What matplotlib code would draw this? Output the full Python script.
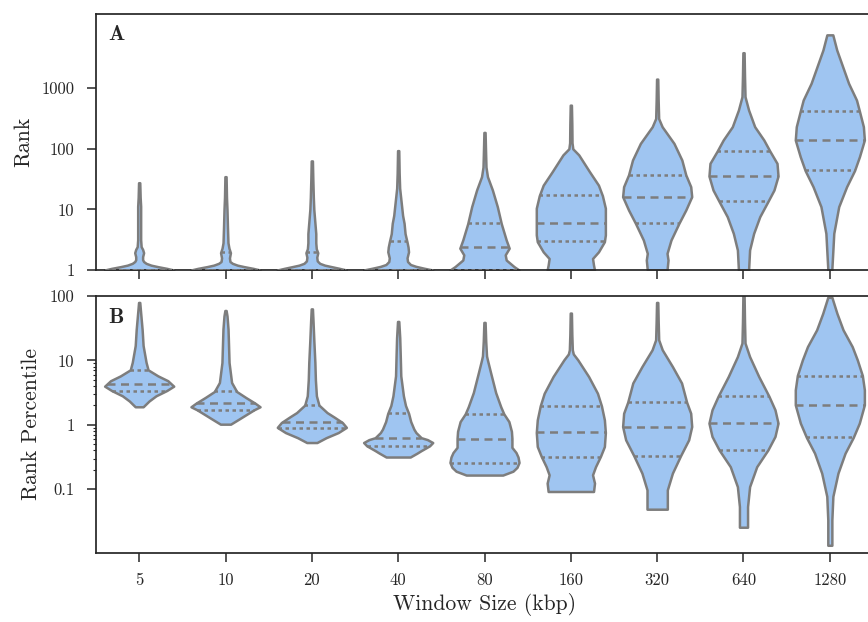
import numpy as np
import matplotlib
matplotlib.use('Agg')
import matplotlib.pyplot as plt
from matplotlib.ticker import FixedLocator, NullLocator, NullFormatter

# ---- Data ----
windows = ['5', '10', '20', '40', '80', '160', '320', '640', '1280']

# violin outlines: log10(value) sample points and relative half-widths
rank_logs = [
    [0, 0.027, 0.055, 0.08, 0.11, 0.14, 0.17, 0.22, 0.285, 0.34, 0.385, 0.5, 0.8, 1.05, 1.2, 1.44],
    [0, 0.027, 0.055, 0.08, 0.11, 0.14, 0.2, 0.285, 0.36, 0.45, 0.7, 1.0, 1.2, 1.54],
    [0, 0.027, 0.055, 0.08, 0.11, 0.15, 0.21, 0.285, 0.35, 0.45, 0.6, 0.8, 1.0, 1.2, 1.5, 1.8],
    [0, 0.03, 0.06, 0.09, 0.14, 0.2, 0.3, 0.38, 0.46, 0.6, 0.77, 0.9, 1.05, 1.2, 1.35, 1.6, 1.97],
    [0, 0.055, 0.11, 0.165, 0.25, 0.36, 0.495, 0.765, 1.045, 1.32, 1.54, 1.7, 2.0, 2.27],
    [0, 0.08, 0.19, 0.3, 0.467, 0.58, 0.776, 1.02, 1.226, 1.4, 1.62, 1.9, 2.0, 2.1, 2.4, 2.72],
    [0, 0.165, 0.275, 0.495, 0.77, 0.99, 1.21, 1.375, 1.57, 1.815, 2.09, 2.365, 2.5, 2.8, 3.15],
    [0, 0.33, 0.605, 0.88, 1.13, 1.32, 1.55, 1.76, 1.96, 2.145, 2.365, 2.64, 2.86, 3.2, 3.585],
    [0, 0.3, 0.605, 1.045, 1.375, 1.64, 1.87, 2.145, 2.365, 2.62, 2.805, 3.08, 3.355, 3.63, 3.88],
]
rank_widths = [
    [35, 28, 19, 12, 7, 4.5, 3.5, 3.5, 4.5, 3.5, 2, 1.5, 1.5, 1.5, 1, 0.6],
    [35, 28, 19, 12, 7, 4.5, 4, 5, 3.5, 2.5, 2, 1.5, 1, 0.6],
    [35, 28, 20, 13, 8, 5.5, 5, 6, 4.5, 4, 4, 3, 2, 1.5, 1, 0.6],
    [35, 26, 18, 12.5, 9.5, 9, 10.5, 10, 9, 7, 6, 4.5, 3.5, 2.5, 1.5, 1, 0.6],
    [35, 30, 26, 22, 21, 25, 22, 17, 13, 8, 3, 1.5, 1, 0.6],
    [24, 23, 22, 28, 34, 35, 35, 35, 32, 28, 19, 8, 2, 1.2, 1, 0.6],
    [10, 11, 10, 14, 22, 29, 35, 34, 29, 25, 17, 5, 1.5, 1, 0.6],
    [5, 6, 10, 16, 24, 30, 34, 33, 26, 20, 11, 5, 1.5, 1, 0.6],
    [2, 3, 4, 9, 17, 25, 30, 35, 34, 30, 27, 19, 13, 7, 3],
]
rank_q1 = [1, 1, 1, 1, 1, 3, 6, 13.5, 44]
rank_med = [1, 1, 1, 1, 2.4, 6, 16, 36, 140]
rank_q3 = [1, 2, 2, 3, 6, 17, 37, 92, 415]

pct_logs = [
    [0.28, 0.37, 0.45, 0.533, 0.6, 0.685, 0.76, 0.854, 0.97, 1.23, 1.48, 1.74, 1.9],
    [0.01, 0.087, 0.165, 0.233, 0.28, 0.337, 0.424, 0.517, 0.657, 0.967, 1.23, 1.485, 1.69, 1.775],
    [-0.275, -0.2, -0.12, -0.04, 0.036, 0.12, 0.19, 0.306, 0.45, 0.7, 0.967, 1.3, 1.6, 1.8],
    [-0.5, -0.44, -0.4, -0.326, -0.275, -0.23, -0.2, -0.12, -0.067, 0.05, 0.176, 0.3, 0.45,
     0.76, 1.07, 1.35, 1.605],
    [-0.78, -0.72, -0.66, -0.585, -0.5, -0.43, -0.35, -0.21, -0.1, 0.05, 0.17, 0.28, 0.5,
     0.81, 1.0, 1.07, 1.3, 1.59],
    [-1.035, -0.905, -0.776, -0.65, -0.49, -0.337, -0.12, 0.078, 0.295, 0.49, 0.75, 1.01,
     1.1, 1.165, 1.4, 1.735],
    [-1.31, -1.165, -1.01, -0.75, -0.48, -0.233, -0.026, 0.18, 0.352, 0.65, 0.905, 1.165,
     1.32, 1.6, 1.9],
    [-1.59, -1.27, -0.96, -0.65, -0.39, -0.18, 0.026, 0.233, 0.445, 0.75, 1.06, 1.27, 1.6, 2.0],
    [-1.87, -1.475, -1.11, -0.75, -0.44, -0.197, 0.026, 0.31, 0.543, 0.766, 1.01, 1.215,
     1.475, 1.73, 1.98],
]
pct_widths = [
    [4, 10, 17, 28, 35, 29, 19, 9, 7, 4, 3, 1.5, 0.6],
    [5, 13, 21, 28, 34, 29, 20, 11, 6, 3.5, 3, 2.5, 1.5, 0.6],
    [5, 14, 26, 34, 30, 22, 15, 7, 4.5, 3.5, 3, 2, 1.2, 0.6],
    [11.5, 18, 22, 30, 33, 28, 22, 17, 15, 12, 10, 7, 5, 2.5, 2, 1.5, 0.6],
    [18, 28, 32, 34, 33, 31, 27, 27, 26.5, 24, 19, 16, 11, 6, 3, 2, 1.2, 0.6],
    [23, 24, 22, 25, 30, 34, 35, 34, 31, 27, 18, 7, 2.5, 1.5, 1, 0.6],
    [10, 10, 10, 15, 23, 31, 34, 33, 29, 24, 15, 5, 1.5, 1, 0.6],
    [4, 4, 6, 13, 24, 31, 34, 31, 25, 15, 6, 1.5, 1, 0.6],
    [2, 2, 3, 8, 15, 23, 29, 34, 34, 32, 27, 22, 13, 7, 2],
]
pct_q1 = [3.4, 1.71, 0.89, 0.47, 0.26, 0.32, 0.33, 0.41, 0.64]
pct_med = [4.3, 2.17, 1.09, 0.63, 0.61, 0.76, 0.94, 1.06, 2.04]
pct_q3 = [7.1, 3.3, 2.0, 1.5, 1.48, 1.97, 2.25, 2.8, 5.8]

# ---- Style ----
fill = '#9fc5f1'
edge = '#7d7d7d'
ink = '#262626'
lw = 1.8
plt.rcParams['font.family'] = 'cmr10'
plt.rcParams['mathtext.fontset'] = 'cm'
plt.rcParams['axes.unicode_minus'] = False
plt.rcParams['axes.formatter.use_mathtext'] = True


def draw_violins(ax, logs, widths, q1, med, q3):
    stats = []
    for lg, w in zip(logs, widths):
        stats.append(dict(coords=10 ** np.array(lg), vals=np.array(w, float),
                          mean=1.0, median=1.0, min=1.0, max=1.0))
    parts = ax.violin(stats, positions=np.arange(len(stats)), widths=0.8,
                      showmeans=False, showextrema=False, showmedians=False)
    for body in parts['bodies']:
        body.set_facecolor(fill)
        body.set_edgecolor(edge)
        body.set_linewidth(lw)
        body.set_alpha(1)
        body.set_joinstyle('round')
    for i, (lg, w) in enumerate(zip(logs, widths)):
        w = np.array(w, float)
        for q, ls in ((q1[i], (0, (1.4, 1.4))), (med[i], (0, (3.2, 2.2))), (q3[i], (0, (1.4, 1.4)))):
            hw = 0.4 * np.interp(np.log10(q), lg, w) / w.max()
            ax.plot([i - hw, i + hw], [q, q], color=edge, lw=lw, ls=ls,
                    dash_capstyle='butt', zorder=3)


def style_axes(ax):
    for sp in ax.spines.values():
        sp.set_color(ink)
        sp.set_linewidth(1.25)
    ax.tick_params(which='major', direction='out', length=6.5, width=1.1, color=ink,
                   labelcolor=ink, labelsize=12)
    ax.tick_params(axis='y', pad=9)
    ax.tick_params(axis='x', pad=7.5)
    ax.set_xlim(-0.5, 8.5)
    ax.set_xticks(np.arange(len(windows)))


fig = plt.figure(figsize=(8.68, 6.22), dpi=100)
ax_a = fig.add_axes([96 / 868, 1 - 270 / 622, 777 / 868, 256 / 622])
ax_b = fig.add_axes([96 / 868, 1 - 553 / 622, 777 / 868, 257 / 622])

# ---- Panel A ----
ax_a.set_yscale('log')
draw_violins(ax_a, rank_logs, rank_widths, rank_q1, rank_med, rank_q3)
style_axes(ax_a)
ax_a.set_ylim(1, 10 ** 4.224)
ax_a.set_yticks([1, 10, 100, 1000], labels=['1', '10', '100', '1000'])
ax_a.yaxis.set_minor_locator(NullLocator())
ax_a.tick_params(axis='x', labelbottom=False)
ax_a.set_ylabel('Rank', fontsize=15.6, color=ink, labelpad=6)
ax_a.text(0.016, 0.898, 'A', transform=ax_a.transAxes, family='cmb10', fontsize=15.5, color=ink)

# ---- Panel B ----
ax_b.set_yscale('log')
draw_violins(ax_b, pct_logs, pct_widths, pct_q1, pct_med, pct_q3)
style_axes(ax_b)
ax_b.set_ylim(10 ** -1.99, 100)
ax_b.set_yticks([0.1, 1, 10, 100], labels=['0.1', '1', '10', '100'])
ax_b.yaxis.set_minor_locator(FixedLocator([0.2, 0.3, 0.4, 0.5, 0.6, 0.7, 0.8, 0.9,
                                           2, 3, 4, 5, 6, 7, 8, 9]))
ax_b.yaxis.set_minor_formatter(NullFormatter())
ax_b.tick_params(which='minor', length=2.5, width=0.8, color=ink)
ax_b.set_xticklabels(windows)
ax_b.set_ylabel('Rank Percentile', fontsize=15.6, color=ink, labelpad=6)
ax_b.set_xlabel('Window Size (kbp)', fontsize=15.6, color=ink)
ax_b.text(0.016, 0.896, 'B', transform=ax_b.transAxes, family='cmb10', fontsize=15.5, color=ink)

fig.savefig('out.png', dpi=100)
